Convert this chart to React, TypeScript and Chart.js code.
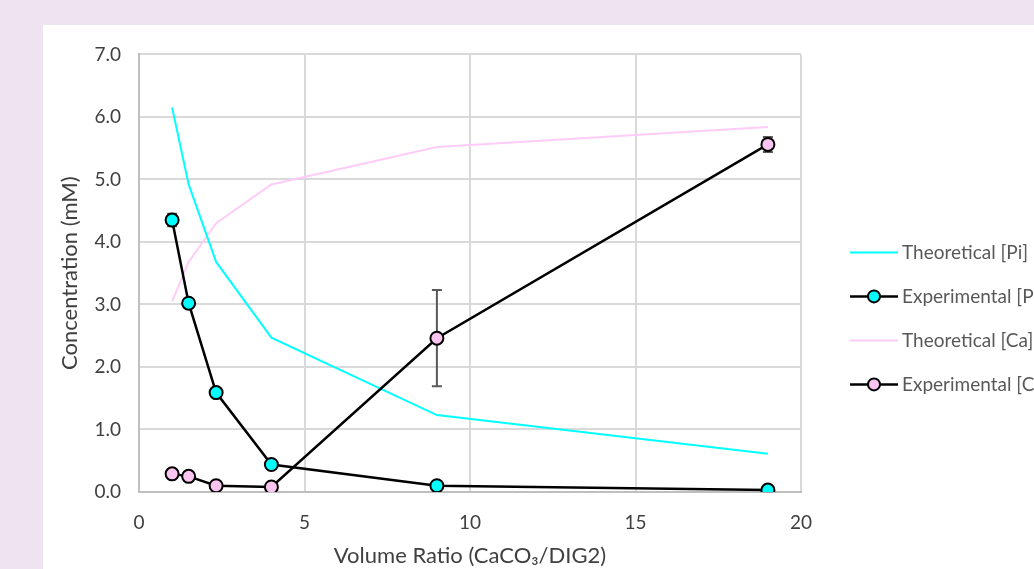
import React, { useEffect, useRef } from "react";
import { Chart, registerables } from "chart.js";

Chart.register(...registerables);

const xValues = [1, 1.5, 2.33, 4, 9, 19];
const theoPi = [6.15, 4.92, 3.68, 2.47, 1.23, 0.61];
const expPi = [4.35, 3.02, 1.59, 0.44, 0.1, 0.03];
const expPiErr = [0.1, 0.03, 0.03, 0.03, 0.02, 0.02];
const theoCa = [3.05, 3.68, 4.3, 4.92, 5.52, 5.84];
const expCa = [0.29, 0.25, 0.1, 0.08, 2.46, 5.56];
const expCaErr = [0.02, 0.02, 0.02, 0.02, 0.77, 0.12];
const xTicks = [0, 5, 10, 15, 20];
const yTicks = [0, 1, 2, 3, 4, 5, 6, 7];
const legendLabels = ["Theoretical [Pi]", "Experimental [Pi]", "Theoretical [Ca]", "Experimental [Ca]"];

const FONT = "Lato, 'Liberation Sans', sans-serif";
const TEXT = "#404040";
const LEGEND_TEXT = "#595959";

const errorBars = {
  id: "errorBars",
  beforeDatasetsDraw(chart: any) {
    const ctx = chart.ctx;
    const ys = chart.scales.y;
    chart.data.datasets.forEach((ds: any, i: number) => {
      if (!ds.err) return;
      const meta = chart.getDatasetMeta(i);
      meta.data.forEach((pt: any, j: number) => {
        const v = ds.data[j].y;
        const e = ds.err[j];
        const top = ys.getPixelForValue(v + e);
        const bot = ys.getPixelForValue(v - e);
        const x = pt.x;
        ctx.save();
        ctx.strokeStyle = "#595959";
        ctx.lineWidth = 2;
        ctx.beginPath();
        ctx.moveTo(x, top);
        ctx.lineTo(x, bot);
        ctx.moveTo(x - 5, top);
        ctx.lineTo(x + 5, top);
        ctx.moveTo(x - 5, bot);
        ctx.lineTo(x + 5, bot);
        ctx.stroke();
        ctx.restore();
      });
    });
  },
};

const customLegend = {
  id: "customLegend",
  afterDraw(chart: any) {
    const ctx = chart.ctx;
    const styles = [
      { color: "#00FFFF", point: null, width: 2 },
      { color: "#000000", point: "#00FFFF", width: 2.5 },
      { color: "#FFCCF7", point: null, width: 2 },
      { color: "#000000", point: "#F9C4F0", width: 2.5 },
    ];
    const x0 = chart.chartArea.right + 49;
    const y0 = chart.chartArea.top + 198;
    const gap = 44;
    legendLabels.forEach((label, i) => {
      const y = y0 + i * gap;
      const s = styles[i];
      ctx.save();
      ctx.strokeStyle = s.color;
      ctx.lineWidth = s.width;
      ctx.beginPath();
      ctx.moveTo(x0, y);
      ctx.lineTo(x0 + 48, y);
      ctx.stroke();
      if (s.point) {
        ctx.beginPath();
        ctx.arc(x0 + 24, y, 6, 0, Math.PI * 2);
        ctx.fillStyle = s.point;
        ctx.fill();
        ctx.lineWidth = 2;
        ctx.strokeStyle = "#000";
        ctx.stroke();
      }
      ctx.fillStyle = LEGEND_TEXT;
      ctx.font = `19px ${FONT}`;
      ctx.textBaseline = "middle";
      ctx.textAlign = "left";
      ctx.fillText(label, x0 + 52, y);
      ctx.restore();
    });
  },
};

function pts(ys: number[]) {
  return xValues.map((x, i) => ({ x, y: ys[i] }));
}

export default function App() {
  const ref = useRef<HTMLCanvasElement>(null);
  useEffect(() => {
    if (!ref.current) return;
    const chart = new Chart(ref.current, {
      type: "scatter",
      data: {
        datasets: [
          {
            label: legendLabels[0],
            data: pts(theoPi),
            showLine: true,
            borderColor: "#00FFFF",
            borderWidth: 2,
            pointRadius: 0,
            order: 3,
          } as any,
          {
            label: legendLabels[1],
            data: pts(expPi),
            err: expPiErr,
            showLine: true,
            borderColor: "#000000",
            borderWidth: 2.5,
            pointRadius: 6.5,
            pointBackgroundColor: "#00FFFF",
            pointBorderColor: "#000000",
            pointBorderWidth: 2,
            order: 1,
          } as any,
          {
            label: legendLabels[2],
            data: pts(theoCa),
            showLine: true,
            borderColor: "#FFCCF7",
            borderWidth: 2,
            pointRadius: 0,
            order: 4,
          } as any,
          {
            label: legendLabels[3],
            data: pts(expCa),
            err: expCaErr,
            showLine: true,
            borderColor: "#000000",
            borderWidth: 2.5,
            pointRadius: 6.5,
            pointBackgroundColor: "#F9C4F0",
            pointBorderColor: "#000000",
            pointBorderWidth: 2,
            order: 2,
          } as any,
        ],
      },
      options: {
        animation: false,
        responsive: false,
        maintainAspectRatio: false,
        layout: { padding: { top: 26, right: 242, left: 0, bottom: 0 } },
        plugins: { legend: { display: false }, tooltip: { enabled: false } },
        scales: {
          x: {
            type: "linear",
            min: 0,
            max: 20,
            afterBuildTicks: (s: any) => {
              s.ticks = xTicks.map((v) => ({ value: v }));
            },
            afterFit: (s: any) => {
              s.height = 77;
            },
            grid: { color: "#D9D9D9", lineWidth: 2, drawTicks: false },
            border: { color: "#BFBFBF", width: 2 },
            ticks: { color: TEXT, font: { family: FONT, size: 19 }, padding: 19 },
            title: {
              display: true,
              text: "Volume Ratio (CaCO₃/DIG2)",
              color: TEXT,
              font: { family: FONT, size: 22 },
              padding: { top: 0, bottom: 0 },
            },
          },
          y: {
            type: "linear",
            min: 0,
            max: 7,
            afterBuildTicks: (s: any) => {
              s.ticks = yTicks.map((v) => ({ value: v }));
            },
            afterFit: (s: any) => {
              s.width = 96;
            },
            grid: { color: "#D9D9D9", lineWidth: 2, drawTicks: false },
            border: { color: "#BFBFBF", width: 2 },
            ticks: {
              color: TEXT,
              font: { family: FONT, size: 19 },
              padding: 18,
              callback: (v: any) => Number(v).toFixed(1),
            },
            title: {
              display: true,
              text: "Concentration (mM)",
              color: TEXT,
              font: { family: FONT, size: 22 },
              padding: { top: 14, bottom: 0 },
            },
          },
        },
      },
      plugins: [errorBars, customLegend],
    });
    return () => chart.destroy();
  }, []);

  return (
    <div
      style={{
        position: "absolute",
        left: 0,
        top: 0,
        width: 1034,
        height: 569,
        overflow: "hidden",
        background: "#EFE3F1",
      }}
    >
      <div
        style={{
          position: "absolute",
          left: 43,
          top: 25,
          width: 1000,
          height: 544,
          background: "#FFFFFF",
        }}
      >
        <canvas ref={ref} width={1000} height={544} style={{ display: "block" }} />
      </div>
    </div>
  );
}
